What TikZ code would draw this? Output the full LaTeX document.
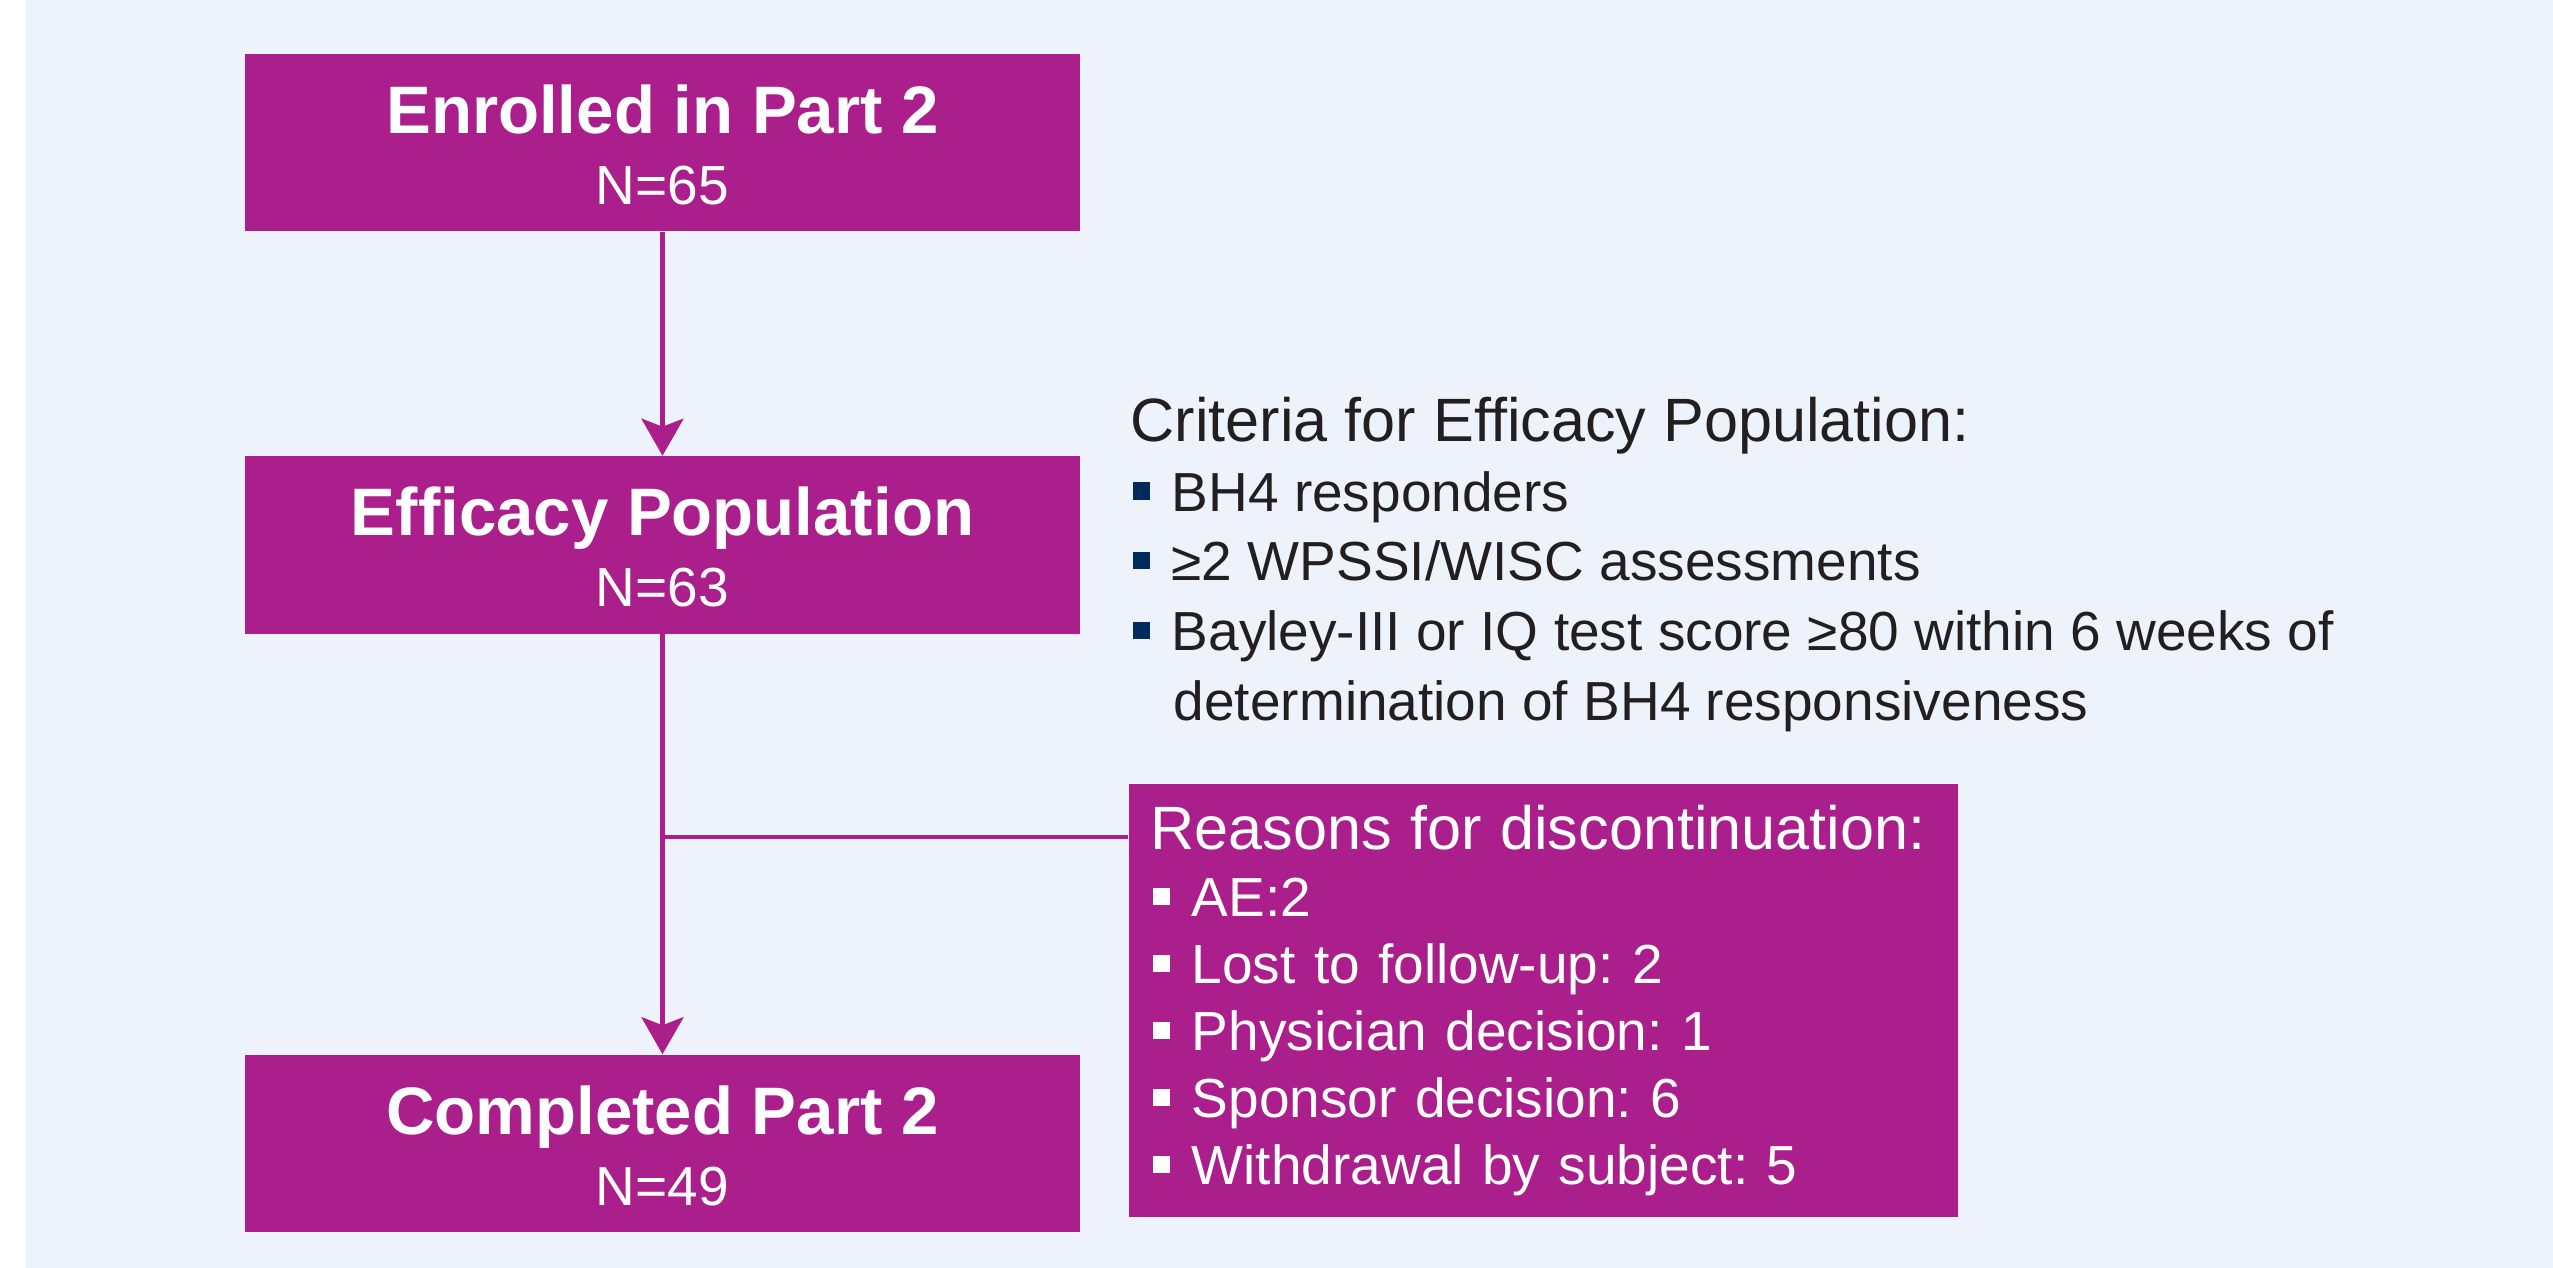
\documentclass[tikz,border=0pt]{standalone}
\usepackage{fontspec}
\setmainfont{Liberation Sans}
\usepackage{tikz}
\usetikzlibrary{arrows.meta}
\definecolor{plum}{RGB}{170,31,140}
\definecolor{navyblue}{RGB}{0,43,92}
\definecolor{paleblue}{RGB}{238,243,251}
\definecolor{inkgray}{RGB}{35,31,32}
\newcommand{\sqbullet}[1]{\hspace*{0.02cm}\textcolor{#1}{\rule[0.115cm]{0.17cm}{0.17cm}}\hspace{0.22cm}}
\frenchspacing

\begin{document}
\begin{tikzpicture}[x = .01cm, y = -.01cm,
    stagebox/.style = {fill = plum, text = white, minimum width = 8.35cm, minimum height = 1.77cm, inner sep = 0, align = center, font = \fontsize{19.1}{20.2}\selectfont\bfseries},
    flow/.style = {draw = plum, line width = 1.3pt, -{Stealth[length = .37cm, width = .42cm, inset = .08cm]}},
    branch/.style = {draw = plum, line width = 1.3pt}]
    \useasboundingbox (0,0) rectangle (2553,1268);
    \fill[paleblue] (26,0) rectangle (2553,1268);
    % three stages
    \node[stagebox] (enrolled) at (662.5,142.5) {\rule{0pt}{0.53cm}Enrolled in Part 2\\{\mdseries\fontsize{15.65}{18}\selectfont N=65}};
    \node[stagebox] (efficacy) at (662.5,545) {\rule{0pt}{0.53cm}Efficacy Population\\{\mdseries\fontsize{15.65}{18}\selectfont N=63}};
    \node[stagebox] (completed) at (662.5,1143.5) {\rule{0pt}{0.53cm}Completed Part 2\\{\mdseries\fontsize{15.65}{18}\selectfont N=49}};
    % criteria text
    \node[anchor = north west, inner sep = 0, align = left, text = inkgray, font = \fontsize{15.65}{19.9}\selectfont] (criteria) at (1130,396) {{\fontsize{17.4}{19.9}\selectfont Criteria for Efficacy Population:}\\
        \sqbullet{navyblue}BH4 responders\\
        \sqbullet{navyblue}≥2 WPSSI/WISC assessments\\
        \sqbullet{navyblue}Bayley-III or IQ test score ≥80 within 6 weeks of\\
        \hspace*{0.43cm}determination of BH4 responsiveness};
    % discontinuations
    \node[fill = plum, text = white, anchor = north west, minimum width = 8.29cm, minimum height = 4.33cm, text width = 7.85cm, inner xsep = .22cm, inner ysep = 0, align = left, font = \fontsize{15.65}{19.05}\selectfont] (reasons) at (1128,783) {{\fontsize{17.4}{19.05}\selectfont Reasons for discontinuation:}\\
        \sqbullet{white}AE:2\\
        \sqbullet{white}Lost to follow-up: 2\\
        \sqbullet{white}Physician decision: 1\\
        \sqbullet{white}Sponsor decision: 6\\
        \sqbullet{white}Withdrawal by subject: 5};
    \draw[flow] (enrolled) -- (efficacy);
    \draw[flow] (efficacy) -- (completed);
    \coordinate (split) at (662.5,837);
    \draw[branch] (split) -- (split -| reasons.west);
\end{tikzpicture}
\end{document}
